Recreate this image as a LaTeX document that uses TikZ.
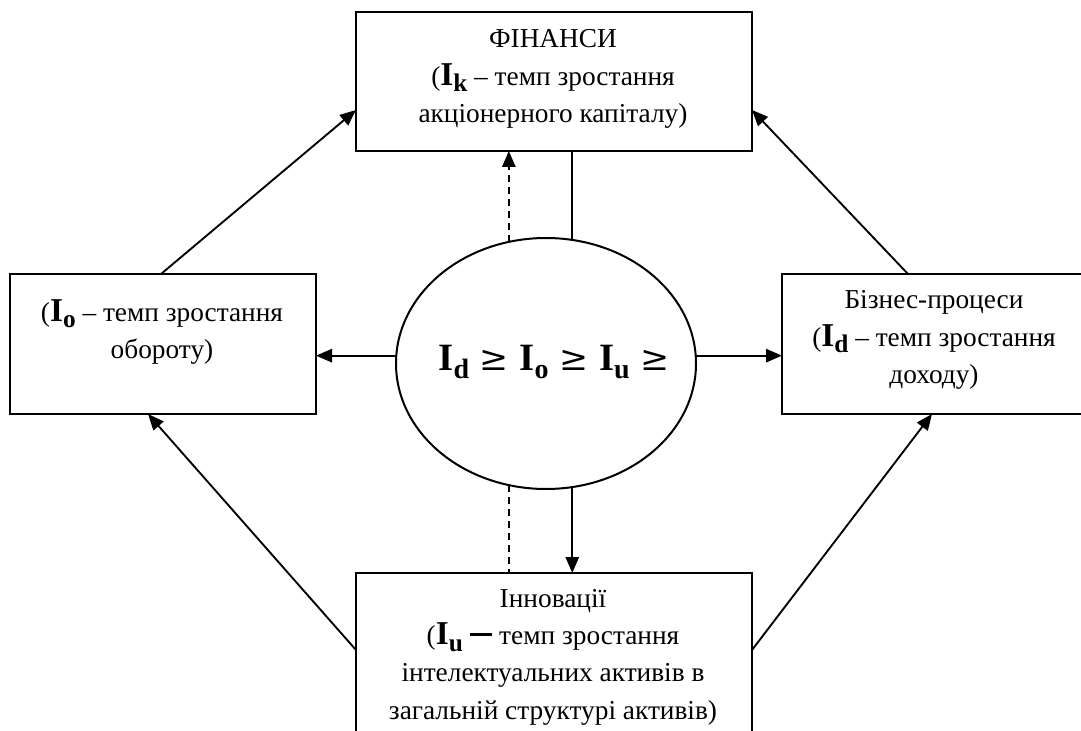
\documentclass[tikz,border=0pt]{standalone}
\usepackage{fontspec}
\setmainfont{Liberation Serif}
\newfontfamily\geqfont{DejaVu Serif}
\usetikzlibrary{shapes.geometric,arrows.meta,calc}
\newcommand{\Ib}[1]{{\fontsize{25}{28}\selectfont\textbf{I}}\raisebox{-5pt}{\fontsize{19}{19}\selectfont\textbf{#1}}}
\newcommand{\Ie}[1]{{\fontsize{29}{30}\selectfont\textbf{I}}\raisebox{-6pt}{\fontsize{21}{21}\selectfont\textbf{#1}}}
\newcommand{\Geq}{{\geqfont\fontsize{26}{26}\selectfont ≥}}
\newcommand{\bardash}{\raisebox{6.5pt}{\rule{17pt}{2.3pt}}}
\tikzset{
  box/.style={draw, line width=1.5pt, rectangle, inner sep=0pt, outer sep=0pt},
  oval/.style={draw, line width=1.5pt, ellipse, inner sep=0pt, outer sep=0pt},
  txt/.style={align=center, inner sep=0pt, font=\fontsize{20.5}{28}\selectfont},
  conn/.style={line width=1.4pt},
  arr/.style={line width=1.4pt, -{Triangle[length=12pt,width=10pt]}},
  dashln/.style={line width=1.4pt, dash pattern=on 5.5pt off 3.5pt}
}
\begin{document}
\begin{tikzpicture}[x=0.75pt,y=-0.75pt]
\useasboundingbox (0,0) rectangle (1081,731);
\clip (0,0) rectangle (1081,731);
\fill[white] (0,0) rectangle (1081,731);
% boxes
\node[box, minimum width=297pt, minimum height=104.25pt] (T) at (554,81.5) {};
\node[box, minimum width=229.5pt, minimum height=105pt] (L) at (163,344) {};
\node[box, minimum width=228pt, minimum height=105pt] (R) at (934,344) {};
\node[box, minimum width=297pt, minimum height=129pt] (B) at (554,659) {};
\node[oval, minimum width=225pt, minimum height=188.25pt] (E) at (546,363.5) {};
% texts
\node[txt] (tT) at (553,79) {ФІНАНСИ\\(\Ib{k} – темп зростання\\акціонерного капіталу)};
\node[txt] (tL) at (162,332) {(\Ib{o} – темп зростання\\обороту)};
\node[txt] (tR) at (934,340) {Бізнес-процеси\\(\Ib{d} – темп зростання\\доходу)};
\node[txt] (tB) at (553,657) {Інновації\\(\Ib{u} \bardash{} темп зростання\\інтелектуальних активів в\\загальній структурі активів)};
\node[inner sep=0pt] (tE) at (554,362) {\Ie{d}\hspace{8pt}\Geq\hspace{8pt}\Ie{o}\hspace{8pt}\Geq\hspace{8pt}\Ie{u}\hspace{8pt}\Geq};
% connectors
\draw[arr] ($(L.north west)+(151,0)$) -- ($(T.north west)+(0,98)$);
\draw[arr] ($(R.north west)+(126,0)$) -- ($(T.north east)+(0,98)$);
\draw[arr] ($(B.north west)+(0,77)$) -- ($(L.south west)+(138,0)$);
\draw[arr] ($(B.north east)+(0,77)$) -- ($(R.south west)+(150,0)$);
\draw[arr] (E.177) -- (E.177 -| L.east);
\draw[arr] (E.3) -- (E.3 -| R.west);
\draw[dashln, -{Triangle[length=12pt,width=10pt]}] (E.107) -- (E.107 |- T.south);
\draw[conn] (E.78) -- (E.78 |- T.south);
\draw[arr] (E.-78) -- (E.-78 |- B.north);
\draw[dashln] (E.-107) -- (E.-107 |- B.north);
\end{tikzpicture}
\end{document}
